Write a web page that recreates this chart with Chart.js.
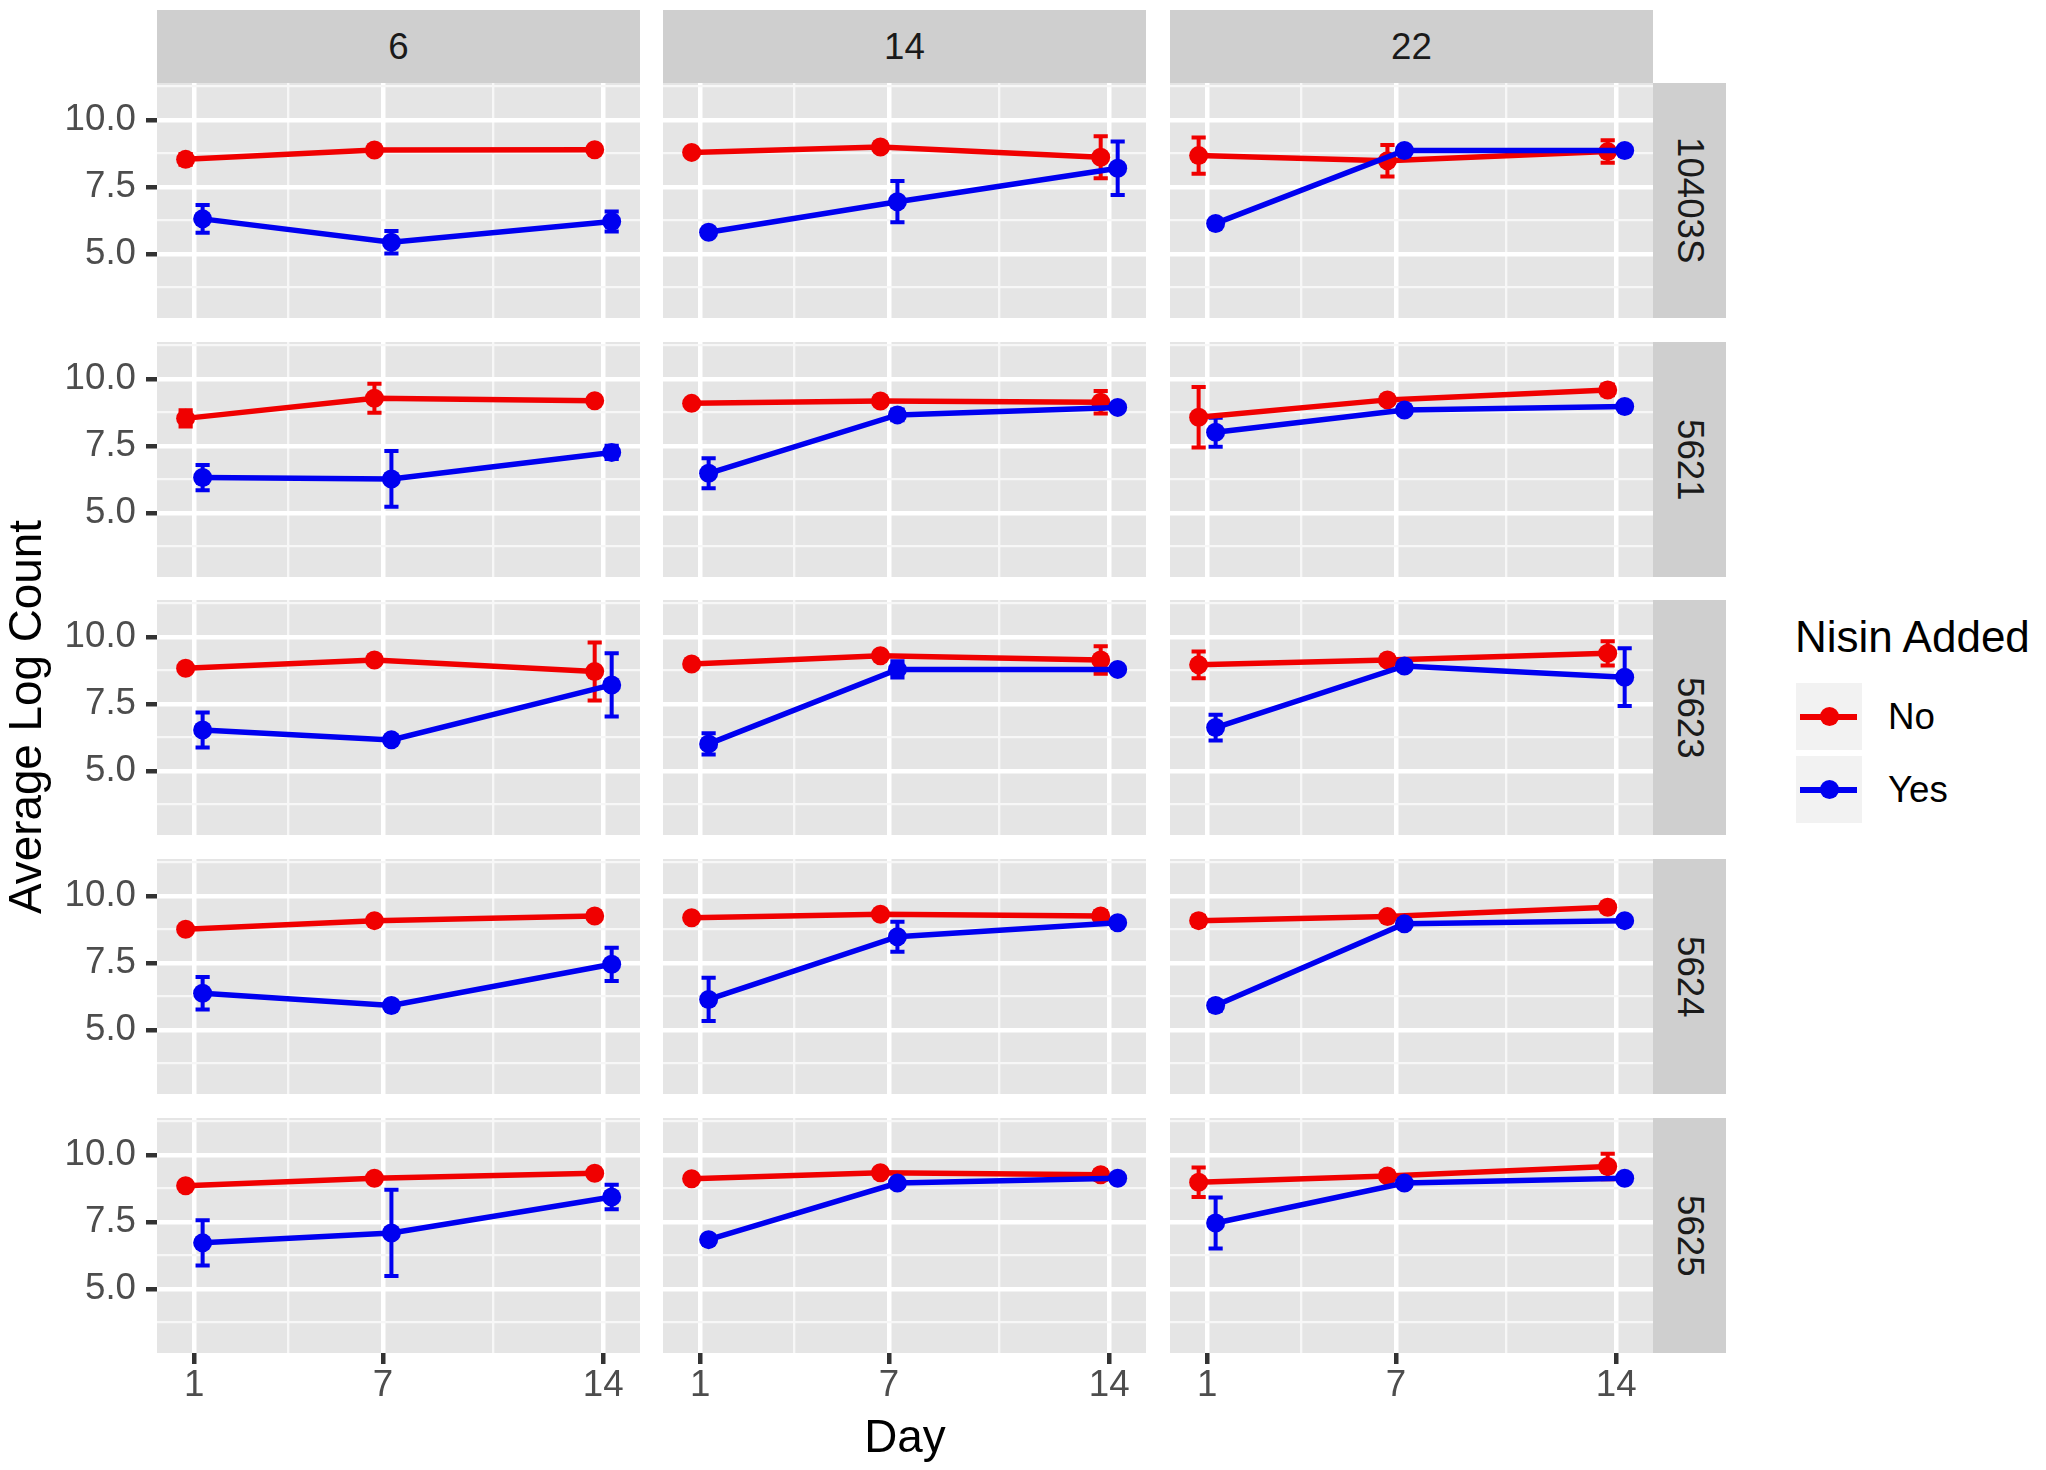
<!DOCTYPE html>
<html>
<head>
<meta charset="utf-8">
<script src="https://cdn.jsdelivr.net/npm/chart.js@4.4.1/dist/chart.umd.min.js"></script>
<style>
  body { margin: 0; background: #fff; }
  #fig { position: relative; width: 2046px; height: 1470px; font-family: "Liberation Sans", Arial, sans-serif; overflow: hidden; }
  #fig canvas { position: absolute; }
  .strip { position: absolute; background: #CFCFCF; color: #1A1A1A; font-size: 36.7px; display: flex; align-items: center; justify-content: center; }
  .vtext { writing-mode: vertical-rl; }
  .lbl { position: absolute; white-space: nowrap; }
  .key { position: absolute; width: 66px; height: 67px; background: #F2F2F2; }
  .key .ln { position: absolute; left: 4px; width: 57px; top: 31px; height: 5.5px; }
  .key .pt { position: absolute; left: 23.5px; top: 24px; width: 19px; height: 19px; border-radius: 50%; }
</style>
</head>
<body>
<div id="fig"></div>
<script>
// facets and x positions
const days = [1, 7, 14];
const temps = ['6', '14', '22'];
const strains = ['10403S', '5621', '5623', '5624', '5625'];

// one row per strain: temp 6 (day 1, 7, 14), temp 14 (...), temp 22 (...)
const noMean = [
  [8.53, 8.88, 8.89, 8.79, 8.99, 8.61, 8.67, 8.48, 8.82],
  [8.53, 9.28, 9.19, 9.09, 9.18, 9.13, 8.57, 9.22, 9.59],
  [8.83, 9.14, 8.71, 8.99, 9.30, 9.14, 8.96, 9.14, 9.39],
  [8.76, 9.08, 9.25, 9.19, 9.32, 9.25, 9.08, 9.23, 9.58],
  [8.85, 9.13, 9.32, 9.11, 9.34, 9.26, 8.98, 9.22, 9.57]
];
const noErr = [
  [0.20, 0.10, 0.10, 0.10, 0.15, 0.78, 0.68, 0.59, 0.42],
  [0.30, 0.54, 0.10, 0.10, 0.10, 0.42, 1.13, 0.10, 0.20],
  [0.10, 0.10, 1.08, 0.10, 0.10, 0.51, 0.50, 0.10, 0.45],
  [0.10, 0.10, 0.10, 0.10, 0.10, 0.18, 0.18, 0.12, 0.18],
  [0.10, 0.10, 0.10, 0.10, 0.10, 0.18, 0.55, 0.15, 0.48]
];
const yesMean = [
  [6.31, 5.44, 6.21, 5.81, 6.95, 8.20, 6.14, 8.86, 8.86],
  [6.32, 6.27, 7.26, 6.48, 8.66, 8.94, 8.01, 8.84, 8.97],
  [6.53, 6.16, 8.21, 6.01, 8.79, 8.79, 6.62, 8.92, 8.50],
  [6.37, 5.91, 7.45, 6.14, 8.48, 9.00, 5.91, 8.96, 9.08],
  [6.72, 7.09, 8.43, 6.84, 8.95, 9.13, 7.46, 8.95, 9.13]
];
const yesErr = [
  [0.52, 0.42, 0.37, 0.10, 0.77, 1.00, 0.10, 0.10, 0.10],
  [0.47, 1.04, 0.25, 0.56, 0.20, 0.10, 0.54, 0.10, 0.10],
  [0.65, 0.10, 1.18, 0.40, 0.30, 0.10, 0.48, 0.15, 1.08],
  [0.61, 0.15, 0.62, 0.81, 0.56, 0.10, 0.18, 0.10, 0.10],
  [0.84, 1.61, 0.46, 0.15, 0.10, 0.15, 0.95, 0.10, 0.10]
];

// axis breaks
const xMajor = [1, 7, 14];
const xMinor = [4, 10.5];
const yMajor = [5, 7.5, 10];
const yMinor = [3.75, 6.25, 8.75, 11.25];

const RED = '#F00000';
const BLUE = '#0000F0';
const DODGE = 0.27;
const CAP = 0.45;
const X_MIN = -0.18, X_MAX = 15.17;
const Y_MIN = 2.61, Y_MAX = 11.38;

// layout
const colLeft = [157, 663, 1170];
const rowTop = [83, 342, 600, 859, 1118];
const PANEL_W = 483, PANEL_H = 235;
const AXIS_W = 107, AXIS_H = 70;

Chart.defaults.font.family = '"Liberation Sans", Arial, sans-serif';

const fig = document.getElementById('fig');

const panelBg = {
  id: 'panelBg',
  beforeDraw(chart) {
    const { ctx, chartArea: a } = chart;
    ctx.save();
    ctx.fillStyle = '#E5E5E5';
    ctx.fillRect(a.left, a.top, a.width, a.height);
    ctx.restore();
  }
};

const errorBars = {
  id: 'errorBars',
  beforeDatasetsDraw(chart) {
    const { ctx, scales: { x, y } } = chart;
    chart.data.datasets.slice().reverse().forEach(ds => {
      ctx.save();
      ctx.strokeStyle = ds.borderColor;
      ctx.lineWidth = 4;
      ds.data.forEach(p => {
        const px = x.getPixelForValue(p.x);
        const half = x.getPixelForValue(p.x + CAP / 2) - px;
        const top = y.getPixelForValue(p.y + p.err);
        const bot = y.getPixelForValue(p.y - p.err);
        ctx.beginPath();
        ctx.moveTo(px, top); ctx.lineTo(px, bot);
        ctx.moveTo(px - half, top); ctx.lineTo(px + half, top);
        ctx.moveTo(px - half, bot); ctx.lineTo(px + half, bot);
        ctx.stroke();
      });
      ctx.restore();
    });
  }
};

function series(mean, err, r, c, dodge) {
  return days.map((d, i) => ({ x: d + dodge, y: mean[r][c * 3 + i], err: err[r][c * 3 + i] }));
}

function makePanel(r, c) {
  const isLeft = c === 0;
  const isBottom = r === strains.length - 1;
  const w = PANEL_W + (isLeft ? AXIS_W : 0);
  const h = PANEL_H + (isBottom ? AXIS_H : 0);
  const canvas = document.createElement('canvas');
  canvas.width = w;
  canvas.height = h;
  canvas.style.left = (colLeft[c] - (isLeft ? AXIS_W : 0)) + 'px';
  canvas.style.top = rowTop[r] + 'px';
  fig.appendChild(canvas);

  const lineStyle = { borderWidth: 5.5, pointRadius: 9.5, pointHoverRadius: 9.5, pointBorderWidth: 0, tension: 0 };

  new Chart(canvas, {
    type: 'line',
    data: {
      datasets: [
        { label: 'Yes', data: series(yesMean, yesErr, r, c, DODGE), borderColor: BLUE, backgroundColor: BLUE, order: 1, ...lineStyle },
        { label: 'No', data: series(noMean, noErr, r, c, -DODGE), borderColor: RED, backgroundColor: RED, order: 2, ...lineStyle }
      ]
    },
    options: {
      responsive: false,
      animation: false,
      devicePixelRatio: 1,
      layout: { padding: 0, autoPadding: false },
      plugins: { legend: { display: false }, tooltip: { enabled: false } },
      events: [],
      scales: {
        x: {
          type: 'linear',
          min: X_MIN,
          max: X_MAX,
          afterBuildTicks: s => { s.ticks = [...xMajor, ...xMinor].sort((a, b) => a - b).map(v => ({ value: v })); },
          afterFit: s => {
            s.height = isBottom ? AXIS_H : 0;
            s.paddingLeft = 0;
            s.paddingRight = 0;
          },
          border: { display: false },
          grid: {
            color: ctx => xMajor.includes(ctx.tick.value) ? '#FFFFFF' : '#F7F7F7',
            lineWidth: ctx => xMajor.includes(ctx.tick.value) ? 4.5 : 2.3,
            drawTicks: isBottom,
            tickLength: 11,
            tickWidth: 4.5,
            tickColor: ctx => xMajor.includes(ctx.tick.value) ? '#333333' : 'rgba(0,0,0,0)'
          },
          ticks: {
            display: isBottom,
            autoSkip: false,
            maxRotation: 0,
            padding: 0,
            color: '#4D4D4D',
            font: { size: 36.7 },
            callback: v => xMajor.includes(v) ? String(v) : ''
          }
        },
        y: {
          type: 'linear',
          min: Y_MIN,
          max: Y_MAX,
          afterBuildTicks: s => { s.ticks = [...yMajor, ...yMinor].sort((a, b) => a - b).map(v => ({ value: v })); },
          afterFit: s => {
            s.width = isLeft ? AXIS_W : 0;
            s.paddingTop = 0;
            s.paddingBottom = 0;
          },
          border: { display: false },
          grid: {
            color: ctx => yMajor.includes(ctx.tick.value) ? '#FFFFFF' : '#F7F7F7',
            lineWidth: ctx => yMajor.includes(ctx.tick.value) ? 4.5 : 2.3,
            drawTicks: isLeft,
            tickLength: 11,
            tickWidth: 4.5,
            tickColor: ctx => yMajor.includes(ctx.tick.value) ? '#333333' : 'rgba(0,0,0,0)'
          },
          ticks: {
            display: isLeft,
            autoSkip: false,
            padding: 10,
            color: '#4D4D4D',
            font: { size: 36.7 },
            callback: v => yMajor.includes(v) ? v.toFixed(1) : ''
          }
        }
      }
    },
    plugins: [panelBg, errorBars]
  });
}

function addDiv(cls, text, css) {
  const d = document.createElement('div');
  d.className = cls;
  d.textContent = text;
  Object.assign(d.style, css);
  fig.appendChild(d);
  return d;
}

// column strips
temps.forEach((t, c) => {
  addDiv('strip', t, { left: colLeft[c] + 'px', top: '10px', width: PANEL_W + 'px', height: (rowTop[0] - 10) + 'px' });
});
// row strips
strains.forEach((s, r) => {
  const d = addDiv('strip', '', { left: (colLeft[2] + PANEL_W) + 'px', top: rowTop[r] + 'px', width: '73px', height: PANEL_H + 'px' });
  const sp = document.createElement('span');
  sp.className = 'vtext';
  sp.textContent = s;
  d.appendChild(sp);
});

strains.forEach((s, r) => temps.forEach((t, c) => makePanel(r, c)));

// axis titles
addDiv('lbl', 'Day', { left: '805px', width: '200px', textAlign: 'center', top: '1407px', height: '60px', lineHeight: '60px', fontSize: '45.8px', color: '#000' });
addDiv('lbl', 'Average Log Count', { left: '-274px', width: '600px', textAlign: 'center', top: '687px', height: '60px', lineHeight: '60px', fontSize: '45.8px', color: '#000', transform: 'rotate(-90deg)' });

// legend
addDiv('lbl', 'Nisin Added', { left: '1795px', top: '607px', height: '60px', lineHeight: '60px', fontSize: '44px', color: '#000' });
[['No', RED, 683], ['Yes', BLUE, 756]].forEach(([name, col, top]) => {
  const k = addDiv('key', '', { left: '1796px', top: top + 'px' });
  const ln = document.createElement('div'); ln.className = 'ln'; ln.style.background = col; k.appendChild(ln);
  const pt = document.createElement('div'); pt.className = 'pt'; pt.style.background = col; k.appendChild(pt);
  addDiv('lbl', name, { left: '1888px', top: (top + 3.5) + 'px', height: '60px', lineHeight: '60px', fontSize: '36.7px', color: '#000' });
});
</script>
</body>
</html>
